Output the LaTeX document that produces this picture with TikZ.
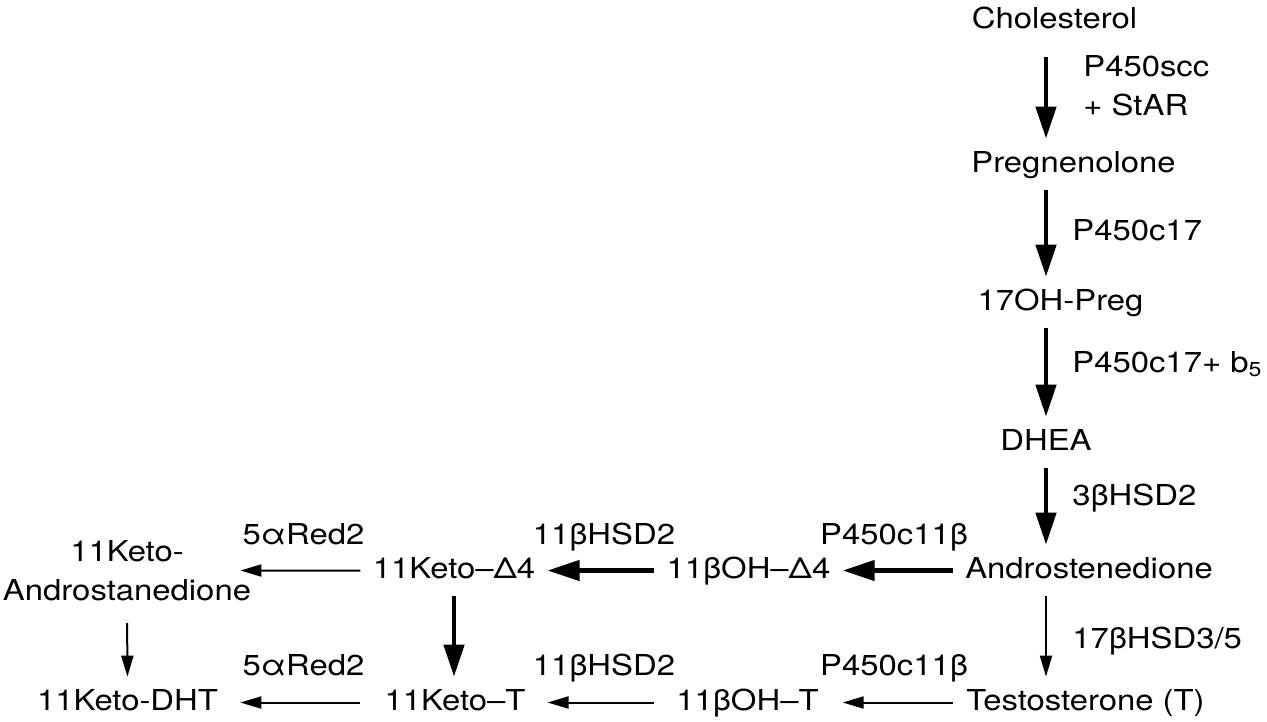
\documentclass[tikz,border=0pt]{standalone}
\usepackage{fontspec}
\setmainfont{TeX Gyre Heros}[FakeStretch=1.14]
\usepackage{tikz}
\usetikzlibrary{arrows.meta}

\begin{document}
\begin{tikzpicture}[
    x=0.02cm, y=-0.02cm,
    font=\fontsize{16.4}{22.2}\selectfont,
    cmpd/.style={inner xsep=0.24cm, inner ysep=0.24cm, text height=0.42cm, text depth=0.12cm, anchor=base},
    enz/.style={inner sep=0pt, anchor=base west},
    rxn/.style={inner sep=0pt, anchor=base},
    big/.style={-{Triangle[length=0.64cm, width=0.4cm]}, line width=0.09cm},
    sml/.style={-{Triangle[length=0.42cm, width=0.24cm]}, line width=0.04cm}
]
\useasboundingbox (0,0) rectangle (1267,721);

\node[cmpd] (chol) at (1054.5,28) {Cholesterol};
\node[cmpd] (preg) at (1073.5,172) {Pregnenolone};
\node[cmpd] (oh17) at (1060.5,310) {17OH-Preg};
\node[cmpd] (dhea) at (1046,450) {DHEA};
\node[cmpd] (andro) at (1089,578) {Androstenedione};
\node[cmpd] (testo) at (1085.5,710) {Testosterone (T)};
\node[cmpd] (ohD4) at (748.5,578) {11βOH–Δ4};
\node[cmpd] (ketoD4) at (454,578) {11Keto–Δ4};
\node[cmpd] (ohT) at (747.5,710) {11βOH–T};
\node[cmpd] (ketoT) at (455,710) {11Keto–T};
\node[inner sep=0.24cm, align=center] (ketoAn) at (127,570.5) {11Keto-\\Androstanedione};
\node[cmpd] (ketoDHT) at (127.5,710) {11Keto-DHT};

\node[enz, anchor=north west, align=left] (scc) at (1083,55) {P450scc\\+ StAR};
\node[enz] (c17) at (1072,240) {P450c17};
\node[enz] (c17b) at (1072,372) {P450c17+ b\textsubscript{5}};
\node[enz] (hsd3) at (1072,505) {3βHSD2};
\node[enz] (hsd17) at (1072,648) {17βHSD3/5};
\node[rxn] (c11a) at (894,544) {P450c11β};
\node[rxn] (hsd11a) at (604,544) {11βHSD2};
\node[rxn] (reda) at (303.5,544) {5αRed2};
\node[rxn] (c11b) at (894,675) {P450c11β};
\node[rxn] (hsd11b) at (604,675) {11βHSD2};
\node[rxn] (redb) at (303.5,675) {5αRed2};

\draw[big, shorten <=0.22cm] (chol.south -| dhea) -- (preg.north -| dhea);
\draw[big] (preg.south -| dhea) -- (oh17.north -| dhea);
\draw[big] (oh17.south -| dhea) -- (dhea.north);
\draw[big] (dhea.south) -- (andro.north -| dhea);
\draw[sml] (andro.south -| dhea) -- (testo.north -| dhea);

\draw[big] (andro.west) -- (ohD4.east);
\draw[big] (ohD4.west) -- (ketoD4.east);
\draw[sml, shorten >=-0.46cm] (ketoD4.west) -- (ketoAn.east);

\draw[sml] (testo.west -| andro.west) -- (ohT.east -| ohD4.east);
\draw[sml] (ohT.west -| ohD4.west) -- (ketoT.east -| ketoD4.east);
\draw[sml, shorten >=0.2cm] (ketoT.west -| ketoD4.west) -- (ketoDHT.east);

\draw[big] (ketoD4.south) -- (ketoD4.south |- ketoT.north);
\draw[sml, shorten <=0.2cm] (ketoAn.south) -- (ketoDHT.north);
\end{tikzpicture}
\end{document}
